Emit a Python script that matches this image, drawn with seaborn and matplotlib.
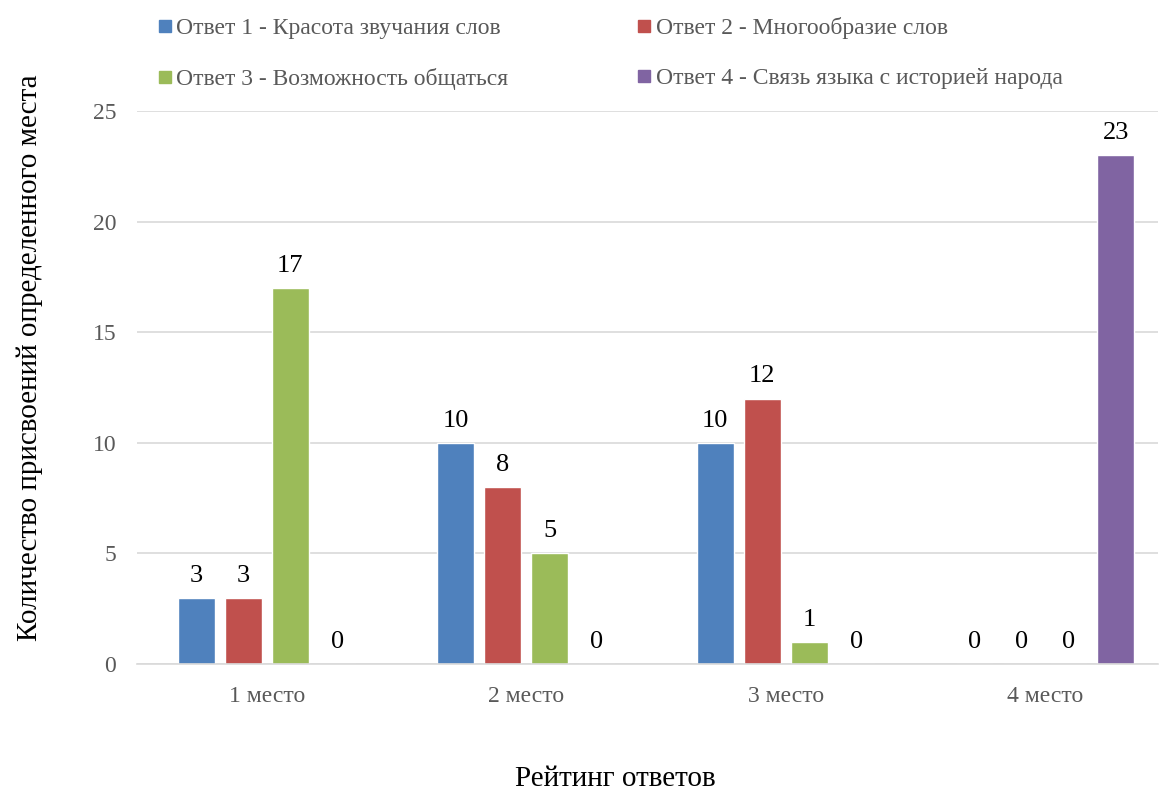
import matplotlib
matplotlib.use("Agg")
import matplotlib.pyplot as plt
from matplotlib.lines import Line2D
import seaborn as sns
import pandas as pd

categories = ["1 место", "2 место", "3 место", "4 место"]
series_names = [
    "Ответ 1 - Красота звучания слов",
    "Ответ 2 - Многообразие слов",
    "Ответ 3 - Возможность общаться",
    "Ответ 4 - Связь языка с историей народа",
]
answer1 = [3, 10, 10, 0]
answer2 = [3, 8, 12, 0]
answer3 = [17, 5, 1, 0]
answer4 = [0, 0, 0, 23]
colors = ["#4F81BD", "#C0504D", "#9BBB59", "#8064A2"]

rows = []
for name, vals in zip(series_names, [answer1, answer2, answer3, answer4]):
    for c, v in zip(categories, vals):
        rows.append({"cat": c, "series": name, "value": v})
df = pd.DataFrame(rows)

sns.set_style("white")
plt.rcParams["font.family"] = ["Liberation Serif", "DejaVu Serif"]

W, H = 1166, 793
fig = plt.figure(figsize=(W / 100, H / 100), dpi=100)
ax = fig.add_axes([137 / W, (H - 664) / H, (1158 - 137) / W, (664 - 111) / H])

sns.barplot(data=df, x="cat", y="value", hue="series", hue_order=series_names,
            order=categories, palette=colors, width=0.725, gap=0.21,
            legend=False, ax=ax, saturation=1)

for cont in ax.containers:
    ax.bar_label(cont, fmt="%d", padding=8, fontsize=19, color="black")

ax.set_ylim(0, 25)
ax.set_xlim(-0.5, 3.435)
ax.set_yticks([0, 5, 10, 15, 20, 25])
ax.yaxis.grid(True, color="#D9D9D9", linewidth=1.2)
ax.set_axisbelow(True)
for s in ["top", "right", "left"]:
    ax.spines[s].set_visible(False)
ax.spines["bottom"].set_color("#D9D9D9")
ax.spines["bottom"].set_linewidth(1.2)
ax.tick_params(axis="both", length=0, labelsize=17, colors="#595959")
ax.tick_params(axis="y", pad=15)
ax.tick_params(axis="x", pad=16)
ax.set_xlabel("Рейтинг ответов", fontsize=21, color="black")
ax.set_ylabel("Количество присвоений определенного места", fontsize=21,
              color="black")
ax.xaxis.set_label_coords((615 - 137) / 1021, (664 - 779) / 553)
ax.xaxis.label.set_va("center")
ax.yaxis.set_label_coords((30 - 137) / 1021, (664 - 358) / 553)
ax.yaxis.label.set_va("center")

order = [0, 2, 1, 3]
handles = [Line2D([], [], marker="s", linestyle="none", markersize=9,
                  markerfacecolor=colors[i], markeredgecolor=colors[i]) for i in order]
labels = [series_names[i] for i in order]
fig.legend(handles, labels, loc="upper left",
           bbox_to_anchor=(148 / W, 1 - 8 / H), ncol=2, frameon=False,
           fontsize=17, labelcolor="#595959", handlelength=0.6,
           handletextpad=0.2, columnspacing=5.45, labelspacing=1.2,
           borderaxespad=0)

fig.savefig("out.png", dpi=100)
